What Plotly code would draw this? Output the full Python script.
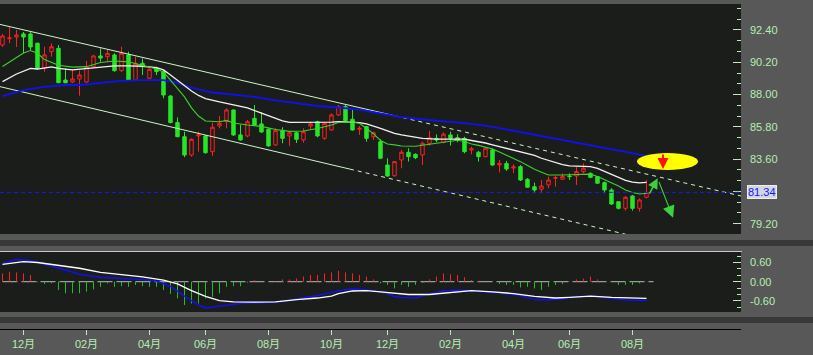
import plotly.graph_objects as go
import pandas as pd

# ---------------- data ----------------
dates = pd.date_range("2013-11-11", periods=93, freq="W-MON")

opens = [91.38, 91.80, 91.92, 92.13, 92.13, 91.50, 89.81, 90.92, 91.15, 88.99,
         88.86, 89.06, 88.86, 89.90, 90.63, 90.58, 90.70, 89.63, 90.70, 88.99,
         90.13, 89.11, 89.79, 89.56, 87.90, 86.09, 85.13, 83.88, 85.18, 85.18,
         84.11, 85.86, 86.15, 86.95, 85.25, 85.18, 86.38, 86.00, 85.64, 84.57,
         85.54, 85.18, 85.40, 84.91, 85.86, 86.15, 85.02, 85.59, 86.61, 87.18,
         86.32, 85.64, 85.82, 85.13, 84.79, 83.20, 82.47, 83.54, 84.07, 83.93,
         83.88, 84.68, 85.02, 84.75, 85.25, 85.06, 85.02, 84.23, 84.07, 83.77,
         84.23, 83.20, 83.30, 83.00, 83.09, 82.23, 81.72, 81.55, 81.84, 82.30,
         82.23, 82.45, 82.45, 82.75, 82.63, 82.41, 82.00, 81.50, 80.70, 80.25,
         81.09, 80.25, 81.00]
highs = [92.13, 92.60, 92.40, 92.26, 92.26, 91.53, 91.26, 91.49, 91.38, 89.79,
         89.74, 89.63, 90.29, 90.70, 91.15, 91.04, 90.81, 91.26, 90.92, 90.58,
         90.47, 89.79, 89.90, 89.68, 87.97, 86.45, 85.47, 85.02, 85.47, 85.25,
         86.09, 86.54, 87.07, 87.00, 85.93, 86.27, 87.29, 86.80, 85.70, 85.70,
         85.77, 85.47, 85.47, 85.70, 86.15, 86.22, 86.13, 86.72, 87.29, 87.29,
         86.95, 85.86, 85.86, 85.47, 84.95, 83.66, 83.48, 84.23, 84.34, 84.00,
         84.79, 85.52, 85.29, 85.43, 85.47, 85.30, 85.13, 84.45, 84.16, 84.34,
         84.34, 83.54, 83.48, 83.25, 83.20, 82.30, 82.00, 82.18, 82.41, 82.45,
         82.63, 82.63, 83.05, 83.32, 82.70, 82.45, 82.07, 81.62, 80.70, 81.09,
         81.16, 80.93, 82.18]
lows = [91.24, 91.50, 91.24, 90.83, 91.04, 89.68, 89.56, 90.58, 88.77, 88.77,
        88.79, 87.92, 88.82, 89.85, 90.24, 90.22, 89.56, 89.54, 88.95, 88.95,
        89.33, 89.04, 89.33, 87.75, 86.04, 85.09, 83.73, 83.77, 84.11, 83.97,
        83.82, 85.70, 85.70, 85.18, 84.86, 85.09, 85.86, 85.40, 84.45, 84.50,
        84.68, 84.50, 84.70, 84.72, 85.64, 85.09, 84.91, 85.54, 86.54, 86.15,
        85.54, 85.25, 84.79, 84.91, 83.61, 82.41, 82.41, 82.98, 83.43, 83.60,
        83.20, 84.52, 84.75, 84.68, 84.52, 84.75, 84.00, 83.93, 83.43, 83.72,
        83.13, 82.70, 82.80, 82.65, 82.11, 81.65, 81.28, 81.28, 81.62, 81.72,
        82.18, 82.18, 81.84, 82.63, 82.30, 81.93, 81.28, 80.48, 80.18, 80.09,
        80.09, 80.02, 80.93]
closes = [91.99, 91.86, 92.06, 91.92, 91.24, 89.81, 90.70, 91.26, 88.81, 88.81,
          89.06, 89.33, 89.88, 90.63, 90.49, 90.81, 89.63, 90.81, 88.99, 90.13,
          89.90, 89.72, 89.56, 87.97, 86.09, 85.13, 83.88, 84.95, 85.25, 84.04,
          85.77, 86.04, 86.95, 85.25, 84.91, 86.15, 85.93, 85.45, 84.50, 85.54,
          85.02, 85.40, 84.95, 85.47, 86.00, 85.18, 86.04, 86.61, 87.18, 86.22,
          85.59, 85.70, 85.02, 85.40, 83.66, 82.45, 83.43, 84.07, 83.77, 83.70,
          84.68, 85.06, 84.90, 85.30, 85.02, 84.90, 84.11, 84.30, 83.77, 84.34,
          83.20, 83.30, 82.93, 83.07, 82.18, 81.69, 81.50, 81.77, 82.18, 82.34,
          82.41, 82.41, 82.75, 82.98, 82.36, 81.96, 81.50, 80.55, 80.25, 81.00,
          80.25, 80.82, 81.34]

# moving-average lines (candle index, value)
ma_short_idx = [0, 1, 3, 4, 5, 6, 8, 10, 12, 14, 16, 18, 20, 22, 23, 24, 25, 26, 27, 28,
                29, 31, 32, 33, 35, 37, 39, 41, 43, 45, 47, 48, 50, 51, 52, 53, 54, 55, 56, 57,
                59, 61, 63, 65, 66, 67, 68, 69, 70, 71, 72, 73, 74, 75, 76, 77, 78, 80, 82, 84,
                85, 86, 87, 88, 89, 90, 91, 92]
ma_short_val = [89.91, 90.22, 90.83, 91.00, 90.81, 90.38, 90.00, 89.87, 89.90, 90.19,
                90.29, 90.23, 90.00, 89.74, 89.54, 88.96, 88.38, 87.84, 87.09, 86.54,
                86.20, 86.15, 86.24, 86.06, 85.93, 85.83, 85.62, 85.49, 85.52, 85.69,
                85.93, 86.10, 86.13, 86.04, 85.69, 85.32, 84.87, 84.63, 84.57, 84.50,
                84.48, 84.61, 84.79, 84.89, 84.80, 84.63, 84.54, 84.43, 84.29, 84.09,
                83.88, 83.68, 83.43, 83.17, 82.91, 82.71, 82.52, 82.52, 82.56, 82.58,
                82.42, 82.22, 82.01, 81.77, 81.50, 81.33, 81.23, 81.28]

ma_mid_idx = [0, 2, 4, 5, 7, 8, 10, 12, 14, 16, 18, 20, 22, 23, 24, 25, 26, 27, 28, 29,
              31, 33, 35, 37, 38, 39, 40, 41, 43, 45, 47, 48, 50, 51, 52, 53, 54, 55, 56, 57,
              58, 60, 62, 66, 67, 68, 69, 70, 71, 72, 73, 74, 75, 76, 77, 78, 79, 80, 81, 83,
              84, 85, 86, 87, 88, 89, 90, 91, 92]
ma_mid_val = [88.88, 89.40, 89.79, 89.74, 89.88, 89.79, 89.68, 89.78, 89.90, 89.95,
              89.95, 89.93, 89.84, 89.68, 89.33, 88.96, 88.59, 88.24, 87.94, 87.73,
              87.50, 87.29, 87.09, 86.73, 86.54, 86.34, 86.20, 86.10, 86.09, 86.11,
              86.12, 86.15, 86.13, 86.09, 86.00, 85.86, 85.70, 85.52, 85.35, 85.25,
              85.16, 85.02, 84.97, 84.96, 84.87, 84.80, 84.70, 84.58, 84.46, 84.38,
              84.26, 84.11, 83.99, 83.85, 83.66, 83.52, 83.37, 83.22, 83.14, 83.12,
              83.09, 82.97, 82.76, 82.56, 82.35, 82.15, 82.03, 81.98, 82.02]

ma_long_idx = [0, 3, 6, 9, 11, 14, 17, 20, 23, 25, 27, 30, 33, 36, 39, 42, 45, 48, 51, 54,
               57, 60, 63, 66, 69, 72, 75, 78, 81, 84, 87, 90, 92]
ma_long_val = [87.90, 88.31, 88.53, 88.65, 88.65, 88.81, 88.93, 88.99, 88.99, 88.79,
               88.48, 88.14, 87.97, 87.84, 87.60, 87.39, 87.22, 87.12, 86.98, 86.71,
               86.47, 86.30, 86.20, 86.06, 85.89, 85.62, 85.35, 85.11, 84.84, 84.57,
               84.29, 83.99, 83.82]

# trend channel (candle index, price) : solid part then dashed extension
upper_solid_x = [-0.36, 56.07]
upper_solid_y = [92.78, 86.55]
upper_dash_x = [56.07, 105.5]
upper_dash_y = [86.55, 81.09]
lower_solid_x = [-0.36, 49.64]
lower_solid_y = [88.54, 82.92]
lower_dash_x = [49.64, 93.93]
lower_dash_y = [82.92, 77.93]

# MACD panel
macd_hist = [0.26, 0.31, 0.29, 0.26, 0.21, -0.02, -0.07, -0.05, -0.26, -0.36,
             -0.36, -0.36, -0.31, -0.24, -0.16, -0.05, -0.16, -0.14, -0.16, -0.10,
             -0.14, -0.16, -0.16, -0.26, -0.38, -0.52, -0.73, -0.68, -0.68, -0.52,
             -0.47, -0.36, -0.16, -0.14, -0.14, -0.03, 0.05, 0.01, 0.01, 0.02,
             0.07, 0.07, 0.10, 0.16, 0.21, 0.21, 0.26, 0.29, 0.34, 0.29,
             0.26, 0.21, 0.16, 0.07, -0.05, -0.10, -0.21, -0.10, -0.16, -0.10,
             -0.04, 0.07, 0.16, 0.26, 0.23, 0.21, 0.14, 0.05, 0.03, 0.01,
             -0.01, -0.07, -0.10, -0.10, -0.18, -0.16, -0.21, -0.26, -0.16, -0.10,
             -0.07, 0.01, 0.07, 0.10, 0.16, 0.07, 0.01, -0.01, -0.10, -0.10,
             -0.10, -0.05, 0.01]
dif_idx = [0, 3, 5, 8, 11, 14, 17, 20, 23, 25, 27, 29, 31, 33, 36, 39, 42, 45, 47, 48,
           50, 52, 54, 56, 58, 61, 64, 67, 70, 73, 76, 79, 81, 84, 87, 90, 92]
dif_val = [0.54, 0.63, 0.60, 0.52, 0.42, 0.29, 0.23, 0.15, 0.05, -0.07,
           -0.28, -0.46, -0.59, -0.63, -0.64, -0.63, -0.56, -0.51, -0.45, -0.37,
           -0.29, -0.28, -0.32, -0.37, -0.40, -0.40, -0.34, -0.28, -0.32, -0.37,
           -0.46, -0.51, -0.49, -0.45, -0.49, -0.52, -0.52]
dea_idx = [0, 2, 4, 6, 8, 11, 14, 17, 20, 22, 24, 26, 28, 29, 31, 34, 37, 40, 42, 45,
           48, 50, 52, 54, 56, 57, 59, 61, 63, 65, 68, 71, 74, 76, 78, 80, 82, 85, 87, 89, 92]
dea_val = [0.58, 0.69, 0.66, 0.55, 0.43, 0.23, 0.14, 0.10, 0.07, 0.02,
           -0.15, -0.45, -0.73, -0.82, -0.77, -0.68, -0.66, -0.62, -0.54, -0.43,
           -0.28, -0.22, -0.26, -0.31, -0.46, -0.49, -0.51, -0.38, -0.29, -0.26,
           -0.30, -0.35, -0.43, -0.56, -0.57, -0.53, -0.46, -0.46, -0.52, -0.57, -0.59]

price_ticks = [79.20, 81.40, 83.60, 85.80, 88.00, 90.20, 92.40]
macd_ticks = [-0.60, 0.00, 0.60]

# signal marks (candle index, price)
signal_ellipse_x = [90.64, 99.36]
signal_ellipse_y = [82.86, 84.02]
up_arrow = [(92.3, 81.15), (93.6, 82.30)]
down_arrow = [(93.7, 82.15), (95.8, 79.60)]
red_arrow = [(94.36, 84.02), (94.36, 82.92)]

# ---------------- styling ----------------
W, H = 813, 355
BG = "#1b1d1b"
PAPER = "#585858"
LBL = "#b4efb0"
FONT = "Liberation Sans, Arial, Noto Sans CJK SC"
RED = "#ff2020"
GREEN = "#26e626"

idx = list(range(len(dates)))
last = closes[-1]

x_main = [0, 741 / W]
y_main = [(H - 234) / H, (H - 4) / H]
y_macd = [(H - 312) / H, (H - 252) / H]
xr = [-0.357, 105.5]
yr = [78.50, 94.17]
yr2 = [-0.947, 0.928]

# ticks on bottom axis: first candle of each even month
tick_pos, tick_txt = [], []
for i, d in enumerate(dates):
    if d.month % 2 == 0 and (i == 0 or dates[i - 1].month != d.month):
        tick_pos.append(i)
        tick_txt.append(f"{d.month:02d}月")

fig = go.Figure()

fig.add_trace(go.Candlestick(
    x=idx, open=opens, high=highs, low=lows, close=closes,
    increasing=dict(line=dict(color=RED, width=1), fillcolor=BG),
    decreasing=dict(line=dict(color=GREEN, width=1), fillcolor=GREEN),
    whiskerwidth=0, xaxis="x", yaxis="y", hoverinfo="skip"))

for xs, ys, dash in [(upper_solid_x, upper_solid_y, "solid"), (upper_dash_x, upper_dash_y, "4px,4px"),
                     (lower_solid_x, lower_solid_y, "solid"), (lower_dash_x, lower_dash_y, "4px,4px")]:
    fig.add_trace(go.Scatter(x=xs, y=ys, mode="lines", line=dict(color="#cdf5c8", width=1, dash=dash),
                             xaxis="x", yaxis="y", hoverinfo="skip"))

fig.add_trace(go.Scatter(x=ma_long_idx, y=ma_long_val, mode="lines",
                         line=dict(color="#1010f0", width=1.8), xaxis="x", yaxis="y"))
fig.add_trace(go.Scatter(x=ma_mid_idx, y=ma_mid_val, mode="lines",
                         line=dict(color="#f2f2f2", width=1.3), xaxis="x", yaxis="y"))
fig.add_trace(go.Scatter(x=ma_short_idx, y=ma_short_val, mode="lines",
                         line=dict(color="#3cd22a", width=1.1), xaxis="x", yaxis="y"))

# MACD histogram
px_, py_, nx_, ny_ = [], [], [], []
for i, v in enumerate(macd_hist):
    if v >= 0:
        px_ += [i, i, None]; py_ += [0, v, None]
    else:
        nx_ += [i, i, None]; ny_ += [0, v, None]
fig.add_trace(go.Scatter(x=[idx[0], idx[-1] + 1], y=[0, 0], mode="lines",
                         line=dict(color="#b9b9b9", width=1, dash="15px,4px"), xaxis="x2", yaxis="y2"))
fig.add_trace(go.Scatter(x=px_, y=py_, mode="lines", line=dict(color=RED, width=1), xaxis="x2", yaxis="y2"))
fig.add_trace(go.Scatter(x=nx_, y=ny_, mode="lines", line=dict(color="#20c020", width=1), xaxis="x2", yaxis="y2"))
fig.add_trace(go.Scatter(x=dea_idx, y=dea_val, mode="lines", line=dict(color="#1010f0", width=1.5),
                         xaxis="x2", yaxis="y2"))
fig.add_trace(go.Scatter(x=dif_idx, y=dif_val, mode="lines", line=dict(color="#ffffff", width=1.3),
                         xaxis="x2", yaxis="y2"))

shapes = [
    # band decorations
    dict(type="rect", xref="paper", yref="paper", x0=0, x1=1, y0=(H - 246) / H, y1=(H - 240) / H,
         fillcolor="#383838", line_width=0, layer="below"),
    dict(type="rect", xref="paper", yref="paper", x0=0, x1=1, y0=(H - 323) / H, y1=(H - 317) / H,
         fillcolor="#383838", line_width=0, layer="below"),
    dict(type="line", xref="paper", yref="paper", x0=0, x1=742 / W, y0=(H - 251.5) / H, y1=(H - 251.5) / H,
         line=dict(color="#c8c8c8", width=1)),
    # last price line
    dict(type="line", xref="x domain", yref="y", x0=0, x1=1, y0=last, y1=last,
         line=dict(color="#1a1aff", width=1, dash="4px,3px")),
    # signal ellipse
    dict(type="circle", xref="x", yref="y", x0=signal_ellipse_x[0], x1=signal_ellipse_x[1],
         y0=signal_ellipse_y[0], y1=signal_ellipse_y[1], fillcolor="#ffff00", line_width=0),
]

annotations = [
    dict(xref="paper", yref="y", x=747 / W, y=last, xanchor="left", yanchor="middle",
         text=f"{last:.2f}", showarrow=False, font=dict(family=FONT, size=11, color="#1414ff"),
         bgcolor="#d3d7e3", bordercolor="#eeeeee", borderwidth=1, borderpad=0),
    dict(xref="x", yref="y", axref="x", ayref="y", x=up_arrow[1][0], y=up_arrow[1][1],
         ax=up_arrow[0][0], ay=up_arrow[0][1], text="", showarrow=True, arrowhead=2,
         arrowsize=1.3, arrowwidth=1.6, arrowcolor="#3cd23c"),
    dict(xref="x", yref="y", axref="x", ayref="y", x=down_arrow[1][0], y=down_arrow[1][1],
         ax=down_arrow[0][0], ay=down_arrow[0][1], text="", showarrow=True, arrowhead=2,
         arrowsize=2.2, arrowwidth=1.1, arrowcolor="#3cd23c"),
    dict(xref="x", yref="y", axref="x", ayref="y", x=red_arrow[1][0], y=red_arrow[1][1],
         ax=red_arrow[0][0], ay=red_arrow[0][1], text="", showarrow=True, arrowhead=2,
         arrowsize=1.1, arrowwidth=2, arrowcolor="#ff1010"),
]

fig.update_layout(
    width=W, height=H, margin=dict(l=0, r=0, t=0, b=0),
    paper_bgcolor=PAPER, plot_bgcolor=BG, showlegend=False, hovermode=False,
    font=dict(family=FONT, size=11, color=LBL),
    shapes=shapes, annotations=annotations,
    xaxis=dict(domain=x_main, range=xr, anchor="y", showticklabels=False, ticks="",
               showgrid=False, zeroline=False, showline=False, rangeslider=dict(visible=False)),
    yaxis=dict(domain=y_main, range=yr, anchor="x", side="right", tickvals=price_ticks,
               ticktext=["" if abs(v - 81.40) < 1e-6 else f"{v:.2f}" for v in price_ticks],
               ticks="inside", ticklen=8, tickcolor=LBL, tickwidth=1, ticklabelstandoff=8,
               minor=dict(dtick=2.2 / 3, tick0=79.2, ticks="inside", ticklen=4, tickcolor=LBL, showgrid=False),
               showgrid=False, zeroline=False, showline=False, tickfont=dict(size=11, color=LBL)),
    xaxis2=dict(domain=x_main, range=xr, anchor="free", position=(H - 329) / H,
                tickvals=tick_pos, ticktext=tick_txt, ticks="outside", ticklen=5, tickcolor=LBL,
                showline=True, linecolor="#000000", linewidth=1, showgrid=False, zeroline=False,
                tickfont=dict(size=11, color=LBL)),
    yaxis2=dict(domain=y_macd, range=yr2, anchor="x2", side="right", tickvals=macd_ticks,
                ticktext=[f"{v:.2f}" for v in macd_ticks], ticks="inside", ticklen=8, tickcolor=LBL,
                ticklabelstandoff=8,
                minor=dict(dtick=0.2, tick0=0, ticks="inside", ticklen=4, tickcolor=LBL, showgrid=False),
                showgrid=False, zeroline=False, showline=False, tickfont=dict(size=11, color=LBL)),
)

fig.write_html("out.html")
